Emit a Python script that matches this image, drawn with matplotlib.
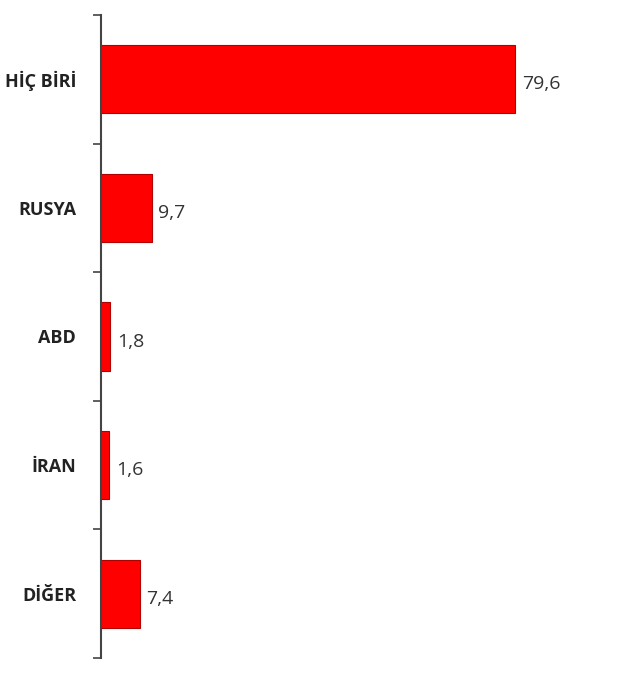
import numpy as np
import matplotlib
matplotlib.use("Agg")
import matplotlib.pyplot as plt

categories = ["HİÇ BİRİ", "RUSYA", "ABD", "İRAN", "DİĞER"]
values = [79.6, 9.7, 1.8, 1.6, 7.4]
value_labels = ["79,6", "9,7", "1,8", "1,6", "7,4"]

plt.rcParams['font.family'] = ['Open Sans', 'DejaVu Sans']

fig = plt.figure(figsize=(6.4, 6.77), dpi=100)
ax = fig.add_axes([0.158, 0.028, 0.827, 0.95])

y = np.arange(len(categories))
ax.barh(y, values, height=0.53, color="#ff0000", edgecolor="#b00000", linewidth=0.8)

for yi, v, lab in zip(y, values, value_labels):
    ax.text(v + 1.2, yi + 0.04, lab, va="center", ha="left", fontsize=14, color="#333333")

ax.set_ylim(len(categories) - 0.5, -0.5)
ax.set_xlim(0, 101.7)
ax.set_yticks(y)
ax.set_yticklabels(categories, fontsize=13, fontweight="bold", color="#222222")
ax.set_yticks(np.arange(-0.5, len(categories), 1.0), minor=True)
ax.tick_params(axis="y", which="major", length=0, pad=18)
ax.tick_params(axis="y", which="minor", length=6, width=1.2, color="#444444", direction="out")
ax.set_xticks([])
for side in ["top", "right", "bottom"]:
    ax.spines[side].set_visible(False)
ax.spines["left"].set_color("#444444")
ax.spines["left"].set_linewidth(1.5)

fig.savefig("out.png", dpi=100)
